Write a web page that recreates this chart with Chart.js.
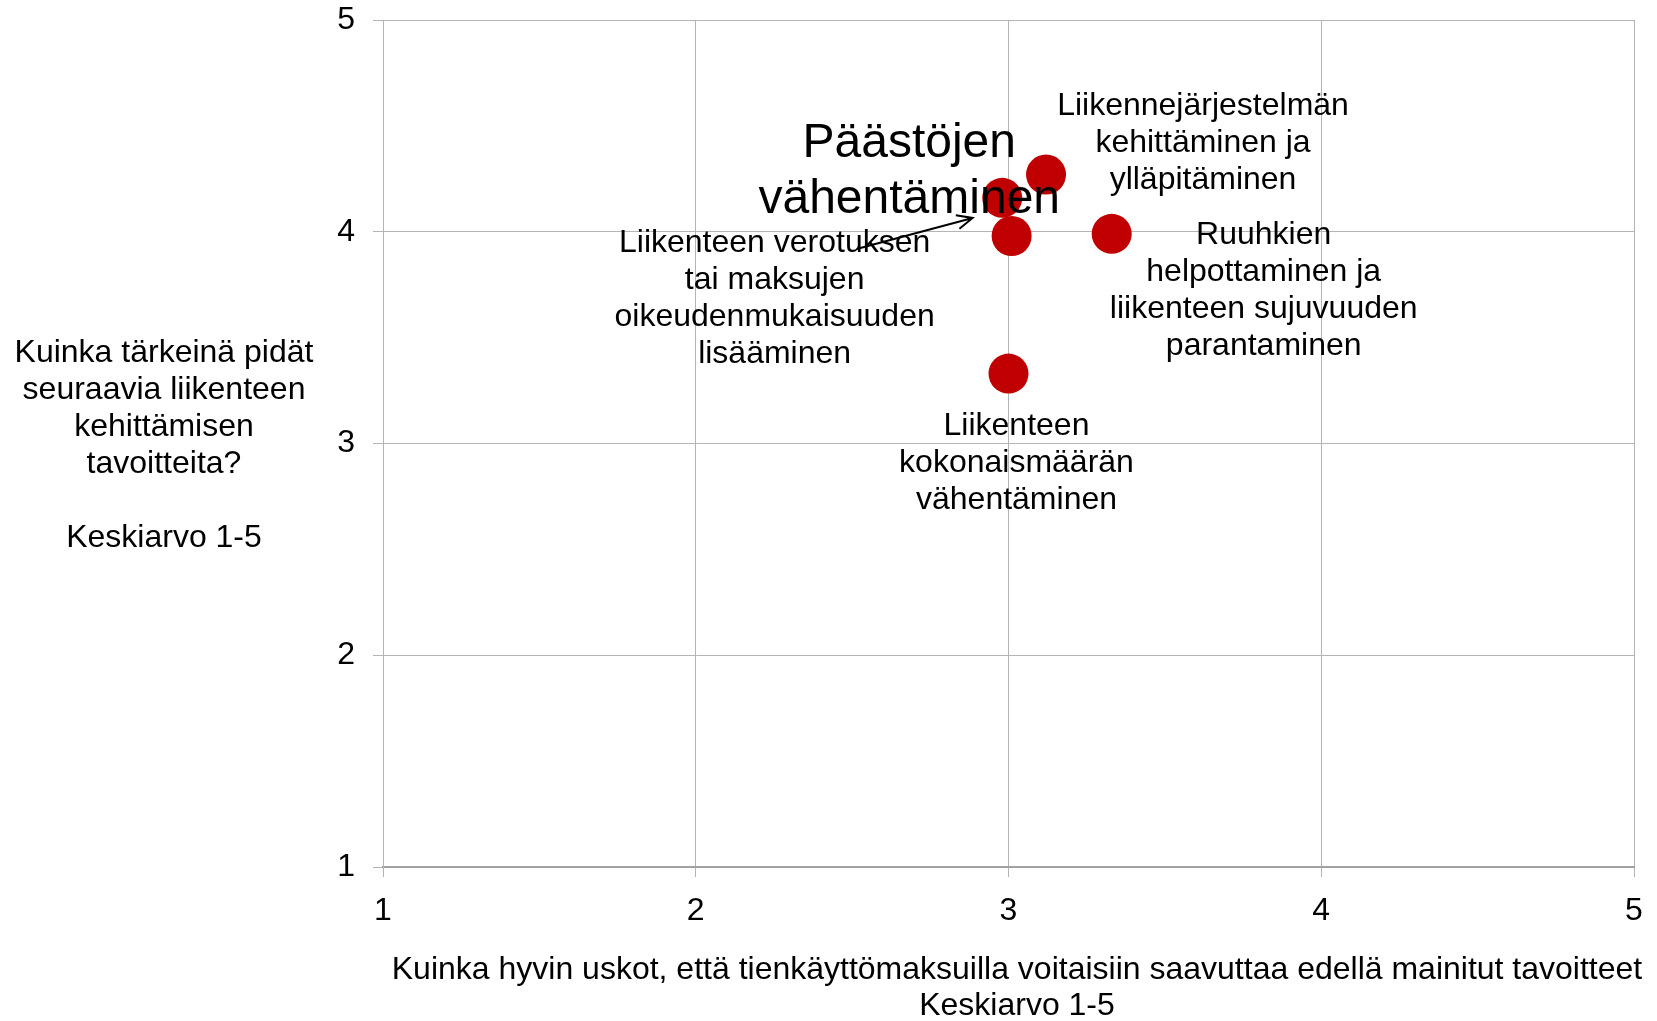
<!DOCTYPE html>
<html><head><meta charset="utf-8">
<script src="https://cdn.jsdelivr.net/npm/chart.js@4"></script>
<style>html,body{margin:0;padding:0;background:#fff;overflow:hidden}</style>
</head><body>
<canvas id="c" width="1657" height="1021" style="display:block;width:1657px;height:1021px"></canvas>
<script>
// ---- data ----
const pointNames = [
  ["Liikennejärjestelmän", "kehittäminen ja", "ylläpitäminen"],
  ["Päästöjen", "vähentäminen"],
  ["Liikenteen verotuksen", "tai maksujen", "oikeudenmukaisuuden", "lisääminen"],
  ["Ruuhkien", "helpottaminen ja", "liikenteen sujuvuuden", "parantaminen"],
  ["Liikenteen", "kokonaismäärän", "vähentäminen"]
];
const xValues = [3.12, 2.98, 3.01, 3.33, 3.00];
const yValues = [4.27, 4.16, 3.98, 3.99, 3.33];
const tickValues = [1, 2, 3, 4, 5];
const xTitle = ["Kuinka hyvin uskot, että tienkäyttömaksuilla voitaisiin saavuttaa edellä mainitut tavoitteet", "Keskiarvo 1-5"];
const yTitle = ["Kuinka tärkeinä pidät", "seuraavia liikenteen", "kehittämisen", "tavoitteita?", "", "Keskiarvo 1-5"];

// ---- styles ----
const FAMILY = '"Liberation Sans", Arial, sans-serif';
const labelStyle = [
  {dx: 157, dy: -68, size: 32, lh: 37},
  {dx: -93, dy: -54, size: 48, lh: 56},
  {dx: -237, dy: 7, size: 32, lh: 37},
  {dx: 152, dy: 1, size: 32, lh: 37},
  {dx: 8, dy: 53, size: 32, lh: 37}
];
const GRID = '#b4b4b4';

const annot = {
  id: 'annot',
  afterDatasetsDraw(chart) {
    const ctx = chart.ctx, xs = chart.scales.x, ys = chart.scales.y;
    ctx.save();
    ctx.fillStyle = '#000';
    ctx.textAlign = 'center';
    ctx.textBaseline = 'middle';
    pointNames.forEach((lines, i) => {
      const px = xs.getPixelForValue(xValues[i]);
      const py = ys.getPixelForValue(yValues[i]);
      const s = labelStyle[i];
      ctx.font = s.size + 'px ' + FAMILY;
      lines.forEach((t, j) => ctx.fillText(t, px + s.dx, py + s.dy + j * s.lh));
    });
    // arrow from label 3 towards points
    const ax = xs.getPixelForValue(xValues[2]), ay = ys.getPixelForValue(yValues[2]);
    const x0 = ax - 155, y0 = ay + 13, x1 = ax - 39, y1 = ay - 18;
    ctx.strokeStyle = '#000';
    ctx.lineWidth = 2;
    ctx.beginPath();
    ctx.moveTo(x0, y0); ctx.lineTo(x1, y1);
    const ang = Math.atan2(y1 - y0, x1 - x0), L = 17, a = 0.42;
    ctx.moveTo(x1 - L * Math.cos(ang - a), y1 - L * Math.sin(ang - a));
    ctx.lineTo(x1, y1);
    ctx.lineTo(x1 - L * Math.cos(ang + a), y1 - L * Math.sin(ang + a));
    ctx.stroke();
    ctx.restore();
  },
  afterDraw(chart) {
    const ctx = chart.ctx;
    ctx.save();
    ctx.fillStyle = '#000';
    ctx.textAlign = 'center';
    ctx.textBaseline = 'middle';
    ctx.font = '32px ' + FAMILY;
    yTitle.forEach((t, j) => { if (t) ctx.fillText(t, 164, 353 + j * 37); });
    ctx.font = '32px ' + FAMILY;
    ctx.fillText(xTitle[0], 1017, 970, 1253);
    ctx.fillText(xTitle[1], 1017, 1006);
    ctx.restore();
  }
};

new Chart(document.getElementById('c'), {
  type: 'scatter',
  data: {
    datasets: [{
      data: xValues.map((x, i) => ({x: x, y: yValues[i]})),
      pointRadius: 20,
      pointHoverRadius: 20,
      pointBackgroundColor: '#C00000',
      pointBorderColor: '#C00000',
      pointBorderWidth: 0
    }]
  },
  options: {
    responsive: false,
    animation: false,
    events: [],
    layout: {padding: {top: 19, right: 23, left: 0, bottom: 0}},
    plugins: {legend: {display: false}, tooltip: {enabled: false}},
    scales: {
      x: {
        type: 'linear', min: 1, max: 5,
        afterBuildTicks: s => { s.ticks = tickValues.map(v => ({value: v})); },
        afterFit: s => { s.height = 154; s.paddingLeft = 0; s.paddingRight = 0; },
        ticks: {font: {size: 32, family: FAMILY}, color: '#000', padding: 15},
        grid: {color: GRID, tickLength: 10, tickColor: GRID},
        border: {color: '#a0a0a0', width: 2}
      },
      y: {
        type: 'linear', min: 1, max: 5,
        afterBuildTicks: s => { s.ticks = tickValues.map(v => ({value: v})); },
        afterFit: s => { s.width = 383; s.paddingTop = 0; s.paddingBottom = 0; },
        ticks: {font: {size: 32, family: FAMILY}, color: '#000', padding: 18},
        grid: {color: c => (c.tick && c.tick.value === 1) ? 'rgba(0,0,0,0)' : GRID, tickLength: 10, tickColor: GRID},
        border: {color: GRID, width: 1}
      }
    }
  },
  plugins: [annot]
});
</script>
</body></html>
